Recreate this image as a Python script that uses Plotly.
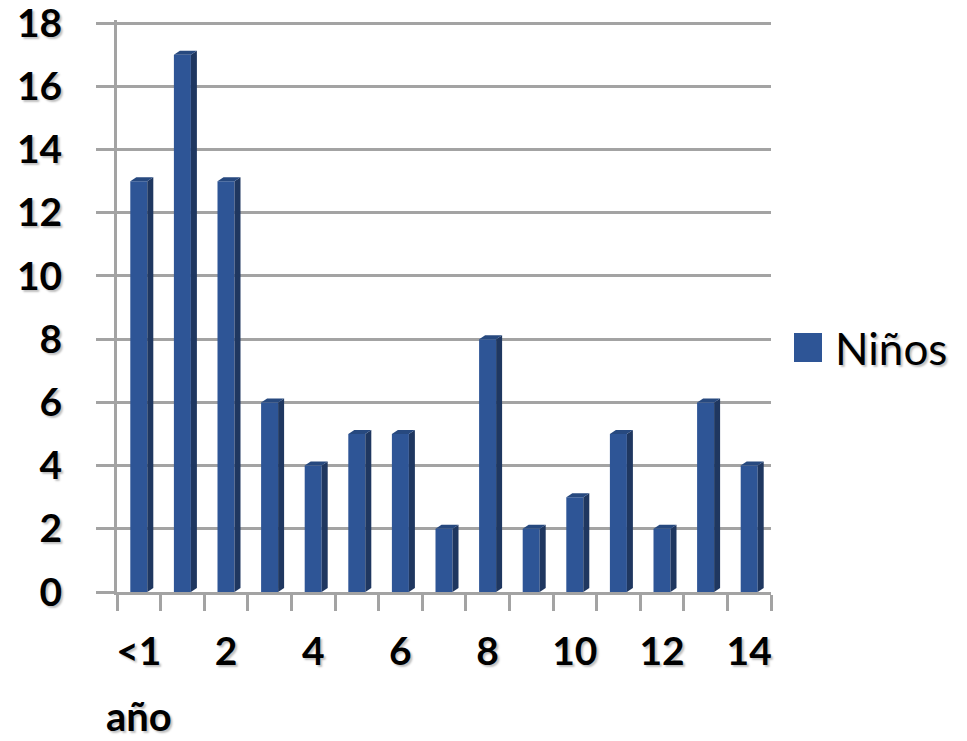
import plotly.graph_objects as go

# Age groups (years) and number of children in each
categories = ["<1 año", "1", "2", "3", "4", "5", "6", "7", "8", "9", "10", "11", "12", "13", "14"]
tick_text = ["<1", "", "2", "", "4", "", "6", "", "8", "", "10", "", "12", "", "14"]
ninos = [13, 17, 13, 6, 4, 5, 5, 2, 8, 2, 3, 5, 2, 6, 4]
y_ticks = list(range(0, 19, 2))

W, H = 967, 741
Y_MAX = 18.1
BASE_Y = 592                      # pixel row of the zero line
TOP_Y = 23                        # pixel row of the 18 gridline
L, R, B = 117, 196, H - BASE_Y
T = round(BASE_Y - (BASE_Y - TOP_Y) * Y_MAX / 18)
PW, PH = W - L - R, H - T - B

FRONT = "#2E5596"
SIDE = "#1F3760"
TOP = "#27497F"
GRID = "#A3A3A3"
FONT = "Lato"
SHADOW = "2px 2px 2px rgba(0,0,0,0.25)"
TICK_SIZE = 39

BAR_W = 0.39          # front face width, in category units
DX = 6 / (PW / len(categories))   # depth offset, horizontal
DY = 4 / (PH / Y_MAX)             # depth offset, vertical

fig = go.Figure()
fig.add_trace(go.Bar(
    x=categories, y=ninos, width=BAR_W,
    marker=dict(color=FRONT, line=dict(width=0)),
    name="Niños", showlegend=False,
))

# side and top faces giving each bar its depth
shapes = []
for i, v in enumerate(ninos):
    xl, xr = i - BAR_W / 2, i + BAR_W / 2
    side = f"M {xr} 0 L {xr + DX} {DY} L {xr + DX} {v + DY} L {xr} {v} Z"
    top = f"M {xl} {v} L {xl + DX} {v + DY} L {xr + DX} {v + DY} L {xr} {v} Z"
    shapes.append(dict(type="path", path=side, xref="x", yref="y",
                       fillcolor=SIDE, line=dict(width=0), layer="above"))
    shapes.append(dict(type="path", path=top, xref="x", yref="y",
                       fillcolor=TOP, line=dict(width=0), layer="above"))

# legend swatch
def px_x(p):
    return (p - L) / PW

def px_y(p):
    return 1 - (p - T) / PH

shapes.append(dict(type="rect", xref="paper", yref="paper",
                   x0=px_x(794), x1=px_x(822), y0=px_y(362), y1=px_y(333),
                   fillcolor=FRONT, line=dict(width=0)))

annotations = [
    dict(text="Niños", xref="paper", yref="paper", x=px_x(833), y=px_y(348),
         xanchor="left", yanchor="middle", showarrow=False,
         font=dict(family=FONT, size=44, color="black", shadow=SHADOW)),
    dict(text="año", xref="x", yref="paper", x=0, y=px_y(716),
         xanchor="center", yanchor="middle", showarrow=False,
         font=dict(family=FONT, size=TICK_SIZE + 1, color="black", weight="bold", shadow=SHADOW)),
]

fig.update_layout(
    width=W, height=H,
    margin=dict(l=L, r=R, t=T, b=B, pad=0),
    paper_bgcolor="white", plot_bgcolor="white",
    bargap=0.5,
    shapes=shapes, annotations=annotations,
    xaxis=dict(
        type="category", categoryorder="array", categoryarray=categories,
        range=[-0.5, len(categories) - 0.5],
        tickmode="array", tickvals=categories, ticktext=tick_text, tickangle=0,
        tickson="boundaries", ticks="outside", ticklen=16, tickwidth=3, tickcolor=GRID,
        showgrid=False, showline=True, linecolor=GRID, linewidth=3,
        ticklabelstandoff=23, automargin=False,
        tickfont=dict(family=FONT, size=TICK_SIZE, color="black", weight="bold", shadow=SHADOW),
        fixedrange=True,
    ),
    yaxis=dict(
        range=[0, Y_MAX], tickmode="array", tickvals=y_ticks,
        ticks="outside", ticklen=18, tickwidth=3, tickcolor=GRID,
        showgrid=True, gridcolor=GRID, gridwidth=3,
        showline=True, linecolor=GRID, linewidth=3,
        zeroline=False, automargin=False,
        ticklabelstandoff=26, ticklabeloverflow="allow",
        tickfont=dict(family=FONT, size=TICK_SIZE, color="black", weight="bold", shadow=SHADOW),
        fixedrange=True,
    ),
)

fig.write_html("out.html", config={"displayModeBar": False})
